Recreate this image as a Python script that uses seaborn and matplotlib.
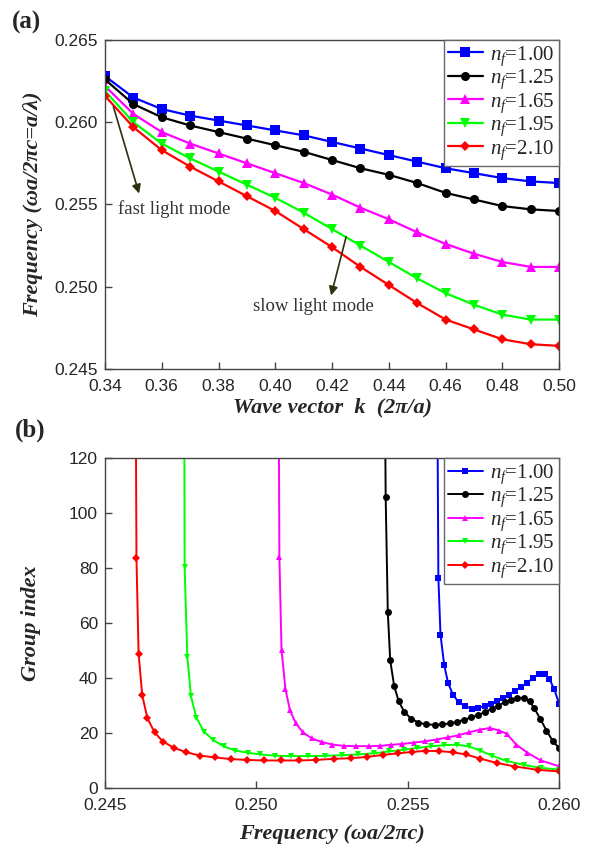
import numpy as np
import pandas as pd
import matplotlib
matplotlib.use("Agg")
import matplotlib.pyplot as plt
import seaborn as sns

# ---- data ----
labels = ["$n_f$=1.00", "$n_f$=1.25", "$n_f$=1.65", "$n_f$=1.95", "$n_f$=2.10"]
colors = ["#0000ff", "#000000", "#ff00ff", "#00ff00", "#ff0000"]
markers = ["s", "o", "^", "v", "D"]

k = [0.34, 0.35, 0.36, 0.37, 0.38, 0.39, 0.40, 0.41, 0.42,
     0.43, 0.44, 0.45, 0.46, 0.47, 0.48, 0.49, 0.50]
freq_100 = [0.2628, 0.2615, 0.2608, 0.2604, 0.2601, 0.2598, 0.2595, 0.2592, 0.2588,
            0.2584, 0.2580, 0.2576, 0.2572, 0.2569, 0.2566, 0.2564, 0.2563]
freq_125 = [0.2626, 0.2611, 0.2603, 0.2598, 0.2594, 0.2590, 0.2586, 0.2582, 0.2577,
            0.2572, 0.2568, 0.2563, 0.2557, 0.2553, 0.2549, 0.2547, 0.2546]
freq_165 = [0.2622, 0.2605, 0.2594, 0.2587, 0.2581, 0.2575, 0.2569, 0.2563, 0.2556,
            0.2548, 0.2541, 0.2533, 0.2526, 0.2520, 0.2515, 0.2512, 0.2512]
freq_195 = [0.2619, 0.2600, 0.2587, 0.2578, 0.2570, 0.2562, 0.2554, 0.2545, 0.2535,
            0.2525, 0.2515, 0.2505, 0.2496, 0.2489, 0.2483, 0.2480, 0.2480]
freq_210 = [0.2616, 0.2597, 0.2583, 0.2573, 0.2564, 0.2555, 0.2546, 0.2535, 0.2524,
            0.2512, 0.2501, 0.2490, 0.2480, 0.2474, 0.2468, 0.2465, 0.2464]

# group index vs frequency (first point of each curve sits above the plot top)
gf_100 = [0.25598, 0.25601, 0.25608, 0.25620, 0.25633, 0.25649, 0.25668, 0.25689, 0.25712,
          0.25733, 0.25754, 0.25774, 0.25794, 0.25814, 0.25834, 0.25854, 0.25874, 0.25894,
          0.25914, 0.25932, 0.25952, 0.25967, 0.25983, 0.26000]
ng_100 = [135, 76.5, 55.8, 44.9, 38.2, 34.0, 31.2, 29.7, 28.9,
          29.2, 29.8, 30.6, 31.6, 32.7, 33.9, 35.3, 36.7, 38.2,
          40.1, 41.3, 41.3, 39.8, 36.1, 30.6]
gf_125 = [0.25425, 0.25427, 0.25434, 0.25442, 0.25455, 0.25470, 0.25489, 0.25511, 0.25535,
          0.25561, 0.25589, 0.25614, 0.25639, 0.25664, 0.25686, 0.25710, 0.25733, 0.25755,
          0.25777, 0.25799, 0.25820, 0.25842, 0.25862, 0.25883, 0.25902, 0.25917, 0.25937,
          0.25958, 0.25979, 0.26000]
ng_125 = [135, 105.7, 64.0, 46.4, 37.1, 31.5, 27.6, 25.2, 23.8,
          23.1, 23.0, 23.1, 23.5, 24.1, 24.8, 25.7, 26.6, 27.6,
          28.8, 30.0, 31.2, 32.1, 32.8, 32.7, 31.5, 29.2, 25.2,
          20.9, 17.0, 14.5]
gf_165 = [0.25074, 0.25076, 0.25083, 0.25096, 0.25111, 0.25130, 0.25153, 0.25183, 0.25216,
          0.25251, 0.25288, 0.25330, 0.25371, 0.25407, 0.25445, 0.25482, 0.25520, 0.25558,
          0.25595, 0.25633, 0.25668, 0.25702, 0.25737, 0.25770, 0.25802, 0.25827, 0.25858,
          0.25895, 0.25939, 0.26000]
ng_165 = [135, 84.1, 50.3, 36.0, 28.2, 23.6, 20.3, 18.0, 16.7,
          15.8, 15.3, 15.2, 15.2, 15.3, 15.7, 16.0, 16.5, 17.0,
          17.6, 18.4, 19.2, 20.2, 21.2, 21.8, 20.9, 19.7, 15.8,
          12.8, 10.0, 7.9]
gf_195 = [0.24762, 0.24763, 0.24772, 0.24784, 0.24802, 0.24827, 0.24858, 0.24893, 0.24931,
          0.24971, 0.25013, 0.25063, 0.25113, 0.25170, 0.25226, 0.25282, 0.25336, 0.25389,
          0.25439, 0.25486, 0.25531, 0.25576, 0.25620, 0.25664, 0.25702, 0.25739, 0.25779,
          0.25827, 0.25883, 0.25939, 0.26000]
ng_195 = [135, 80.5, 47.7, 33.4, 25.5, 20.5, 17.4, 15.1, 13.6,
          12.8, 12.2, 11.7, 11.6, 11.6, 11.7, 11.9, 12.2, 12.6,
          13.3, 13.9, 14.6, 15.1, 15.6, 15.7, 15.1, 13.6, 11.7,
          9.8, 8.4, 7.3, 6.7]
gf_210 = [0.24602, 0.24604, 0.24611, 0.24623, 0.24640, 0.24664, 0.24691, 0.24728, 0.24768,
          0.24813, 0.24863, 0.24916, 0.24969, 0.25026, 0.25082, 0.25141, 0.25198, 0.25255,
          0.25311, 0.25366, 0.25417, 0.25467, 0.25514, 0.25559, 0.25604, 0.25648, 0.25691,
          0.25739, 0.25793, 0.25855, 0.25929, 0.26000]
ng_210 = [135, 83.8, 48.9, 33.8, 25.4, 20.2, 16.9, 14.6, 13.0,
          11.8, 11.1, 10.5, 10.2, 10.0, 10.0, 10.0, 10.2, 10.6,
          10.8, 11.3, 12.0, 12.6, 13.1, 13.5, 13.4, 13.0, 12.2,
          10.7, 9.1, 7.8, 6.6, 6.0]

band = [freq_100, freq_125, freq_165, freq_195, freq_210]
gx = [gf_100, gf_125, gf_165, gf_195, gf_210]
gy = [ng_100, ng_125, ng_165, ng_195, ng_210]

# ---- style ----
sns.set_style("ticks")
plt.rcParams["font.family"] = ["Liberation Sans", "DejaVu Sans"]
plt.rcParams["mathtext.fontset"] = "custom"
plt.rcParams["mathtext.rm"] = "Liberation Serif"
plt.rcParams["mathtext.it"] = "Liberation Serif:italic"
plt.rcParams["axes.edgecolor"] = "#444444"
plt.rcParams["axes.linewidth"] = 1.0

serif = ["Liberation Serif", "DejaVu Serif"]
lab_font = dict(family=serif, style="italic", weight="bold", size=16)

fig = plt.figure(figsize=(5.93, 8.5), dpi=100)
ax1 = fig.add_axes([0.177, 0.566, 0.766, 0.387])
ax2 = fig.add_axes([0.177, 0.073, 0.766, 0.388])


def style_axes(ax):
    ax.tick_params(direction="in", length=5, width=1, top=False, right=False,
                   labelsize=12.5, color="#444444")
    ax.tick_params(axis="x", pad=7)
    ax.tick_params(axis="y", pad=5)
    for s in ax.spines.values():
        s.set_visible(True)
        s.set_color("#444444")


def add_legend(ax):
    leg = ax.legend(loc="upper right", borderaxespad=0, fancybox=False, framealpha=1,
                    edgecolor="#666666", prop=dict(family=serif, size=15),
                    handlelength=1.7, handletextpad=0.35, labelspacing=0.0,
                    borderpad=0.2)
    leg.get_frame().set_linewidth(1.0)


# (a) band diagram
for i in range(5):
    df = pd.DataFrame({"k": k, "f": band[i]})
    sns.lineplot(data=df, x="k", y="f", ax=ax1, color=colors[i], marker=markers[i],
                 markersize=6.5 if markers[i] != "D" else 5.5, markeredgewidth=0,
                 linewidth=1.6, label=labels[i], sort=False, estimator=None)

ax1.set_xlim(0.34, 0.50)
ax1.set_ylim(0.245, 0.265)
ax1.set_xticks(np.arange(0.34, 0.5001, 0.02))
ax1.set_yticks([0.245, 0.250, 0.255, 0.260, 0.265])
ax1.xaxis.set_major_formatter(matplotlib.ticker.FormatStrFormatter("%.2f"))
ax1.yaxis.set_major_formatter(matplotlib.ticker.FormatStrFormatter("%.3f"))
ax1.set_xlabel("Wave vector  k  (2π/a)", **lab_font, labelpad=3)
ax1.set_ylabel("Frequency (ωa/2πc=a/λ)", **lab_font, labelpad=8)
style_axes(ax1)
add_legend(ax1)

arrow = dict(arrowstyle="-|>", color="#2e2e10", lw=1.2, mutation_scale=13)
ax1.annotate("", xy=(0.3523, 0.2555), xytext=(0.3427, 0.2611), arrowprops=arrow)
ax1.text(0.3447, 0.2547, "fast light mode", family=serif, size=13.5, va="center",
         color="#333333")
ax1.annotate("", xy=(0.4194, 0.2493), xytext=(0.4252, 0.2532), arrowprops=arrow)
ax1.text(0.3921, 0.2488, "slow light mode", family=serif, size=13.5, va="center",
         color="#333333")

# (b) group index
for i in range(5):
    df = pd.DataFrame({"f": gx[i], "n": gy[i]})
    sns.lineplot(data=df, x="f", y="n", ax=ax2, color=colors[i], marker=markers[i],
                 markersize=5 if markers[i] != "D" else 4.5, markeredgewidth=0,
                 linewidth=1.4, label=labels[i], sort=False, estimator=None)

ax2.set_xlim(0.245, 0.260)
ax2.set_ylim(0, 120)
ax2.set_xticks([0.245, 0.250, 0.255, 0.260])
ax2.set_yticks(np.arange(0, 121, 20))
ax2.xaxis.set_major_formatter(matplotlib.ticker.FormatStrFormatter("%.3f"))
ax2.set_xlabel("Frequency (ωa/2πc)", **lab_font, labelpad=8)
ax2.set_ylabel("Group index", **lab_font, labelpad=20)
style_axes(ax2)
add_legend(ax2)

fig.text(0.02, 0.987, "(a)", family=serif, weight="bold", size=18, va="top")
fig.text(0.025, 0.507, "(b)", family=serif, weight="bold", size=18, va="top")

fig.savefig("out.png", dpi=100)
